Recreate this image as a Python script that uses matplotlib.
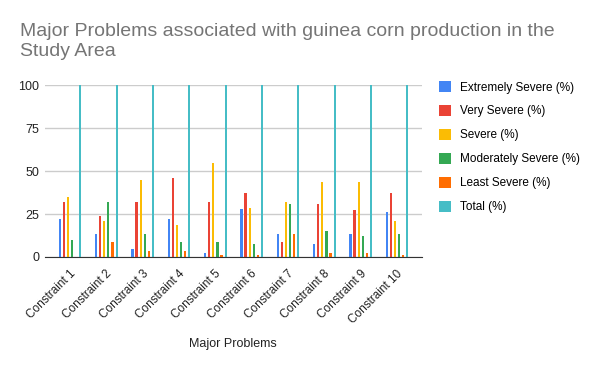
import numpy as np
import matplotlib
matplotlib.use('Agg')
import matplotlib.pyplot as plt

plt.rcParams['font.family'] = ['Liberation Sans', 'DejaVu Sans']

constraints = ['Constraint 1', 'Constraint 2', 'Constraint 3', 'Constraint 4', 'Constraint 5',
               'Constraint 6', 'Constraint 7', 'Constraint 8', 'Constraint 9', 'Constraint 10']
extremely = [22, 13.4, 4.7, 22, 2.3, 28, 13.4, 7.6, 13.4, 26.2]
very = [31.8, 24, 32, 46, 32, 37.3, 8.7, 30.9, 27.4, 37.3]
severe = [35, 21, 45, 18.6, 55, 28.5, 32, 43.7, 43.7, 21]
moderately = [10, 32, 13.4, 8.7, 8.7, 7.6, 30.9, 15.1, 12.2, 13.4]
least = [0, 8.7, 3.5, 3.5, 1.2, 1.2, 13.4, 2.3, 2.3, 1.2]
total = [100] * 10

series = [
    ('Extremely Severe (%)', extremely, '#4285F4'),
    ('Very Severe (%)', very, '#EA4335'),
    ('Severe (%)', severe, '#FBBC04'),
    ('Moderately Severe (%)', moderately, '#34A853'),
    ('Least Severe (%)', least, '#FF6D01'),
    ('Total (%)', total, '#46BDC6'),
]

fig = plt.figure(figsize=(6, 3.71), dpi=100)
ax = fig.add_axes([0.0755, 0.3073, 0.6275, 0.4628])

x = np.arange(len(constraints))
step = 0.113
for i, (name, vals, col) in enumerate(series):
    ax.bar(x + (i - 2.5) * step, vals, width=0.06, color=col, label=name, zorder=3)

ax.set_xlim(-0.68, len(constraints) - 1 + 0.68)
ax.set_ylim(0, 100)
ax.set_yticks([0, 25, 50, 75, 100])
ax.yaxis.grid(True, color='#cccccc', linewidth=1, zorder=0)
for s in ['top', 'right', 'left']:
    ax.spines[s].set_visible(False)
ax.spines['bottom'].set_color('#333333')
ax.spines['bottom'].set_zorder(4)
ax.tick_params(axis='both', length=0, labelsize=9, colors='#222222')
ax.tick_params(axis='y', pad=4.5)
ax.tick_params(axis='x', pad=11, labelsize=8.5)
ax.set_xticks(x + 0.1)
ax.set_xticklabels(constraints, rotation=45, ha='right', va='center', rotation_mode='anchor')
fig.text(233 / 600, 1 - 344 / 371, 'Major Problems', fontsize=9, color='#222222',
         ha='center', va='center')

fig.text(20 / 600, 1 - 23 / 371, 'Major Problems associated with guinea corn production in the\nStudy Area',
         fontsize=14, color='#757575', va='top', ha='left', linespacing=1.2)

ax.legend(loc='upper left', bbox_to_anchor=(439 / 600, 1 - 81 / 371), bbox_transform=fig.transFigure,
          frameon=False, fontsize=8.5, borderpad=0, borderaxespad=0,
          handlelength=1.05, handleheight=1.05, labelspacing=0.97, handletextpad=0.75)

fig.savefig('out.png', dpi=100)
